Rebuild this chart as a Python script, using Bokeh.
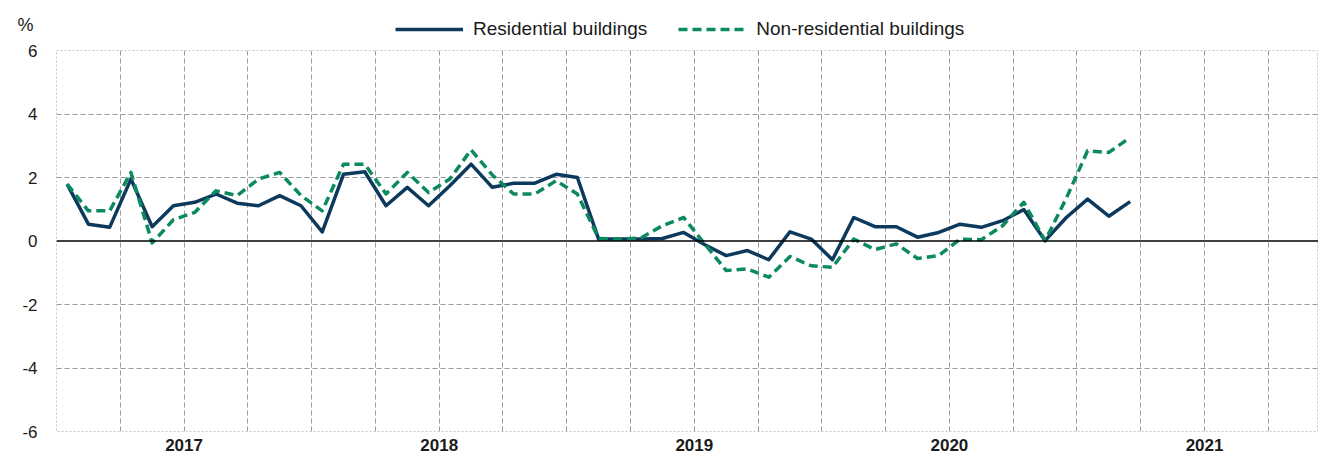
from bokeh.plotting import figure
from bokeh.layouts import column
from bokeh.models import FixedTicker, Legend, LegendItem, Span, ColumnDataSource
from bokeh.embed import file_html
from bokeh.resources import INLINE

# Monthly year-on-year change, %, starting January 2017
residential = [1.79, 0.53, 0.43, 1.95, 0.45, 1.11, 1.22, 1.48, 1.19, 1.11,
               1.43, 1.11, 0.29, 2.10, 2.18, 1.11, 1.69, 1.11, 1.74, 2.42,
               1.69, 1.82, 1.82, 2.10, 2.00, 0.06, 0.06, 0.06, 0.08, 0.27,
               -0.12, -0.46, -0.30, -0.59, 0.29, 0.06, -0.59, 0.74, 0.45, 0.45,
               0.12, 0.27, 0.53, 0.43, 0.64, 0.99, 0.01, 0.74, 1.32, 0.78, 1.24]
non_residential = [1.79, 0.95, 0.95, 2.16, -0.06, 0.67, 0.90, 1.58, 1.43, 1.95,
                   2.16, 1.43, 0.95, 2.42, 2.42, 1.48, 2.16, 1.53, 1.95, 2.87,
                   2.08, 1.48, 1.48, 1.90, 1.48, 0.08, 0.06, 0.10, 0.48, 0.74,
                   -0.10, -0.93, -0.88, -1.14, -0.49, -0.78, -0.83, 0.06, -0.27, -0.09,
                   -0.55, -0.46, 0.06, 0.04, 0.48, 1.22, 0.01, 1.35, 2.84, 2.79, 3.26]
years = ["2017", "2018", "2019", "2020", "2021"]
y_ticks = [-6, -4, -2, 0, 2, 4, 6]
series_names = ["Residential buildings", "Non-residential buildings"]
unit_label = "%"

FONT = "Liberation Sans"
DARK = "#0d3a5c"
GREEN = "#0b8a5f"
TXT = "#1a1a1a"

W = 1318
HEAD_H = 40
MAIN_H = 463 - HEAD_H
LEFT = 56
TOP = 10
FRAME_H = 381
MONTH_PX = 21.26
X_END = (W - LEFT) / MONTH_PX

x = [i + 0.5 for i in range(len(residential))]
src = ColumnDataSource(dict(x=x, res=residential, nonres=non_residential))

# ---------- header (legend and unit) ----------
h = figure(width=W, height=HEAD_H, output_backend="svg", toolbar_location=None,
           x_range=(0, X_END), y_range=(HEAD_H, 0), x_axis_location=None,
           min_border_left=LEFT, min_border_right=0, min_border_top=0, min_border_bottom=0)
h.outline_line_color = None
h.grid.visible = False
h.yaxis.ticker = FixedTicker(ticks=[24])
h.yaxis.major_label_overrides = {24: unit_label}
h.yaxis.axis_line_color = None
h.yaxis.major_tick_line_color = None
h.yaxis.minor_tick_line_color = None
h.yaxis.major_tick_out = 0
h.yaxis.major_tick_in = 0
h.yaxis.major_label_standoff = 23
h.yaxis.major_label_text_font = FONT
h.yaxis.major_label_text_font_size = "18px"
h.yaxis.major_label_text_color = TXT

nan = float("nan")
hr1 = h.line(x=[nan], y=[nan], line_color=DARK, line_width=3.5)
hr2 = h.line(x=[nan], y=[nan], line_color=GREEN, line_width=3.5, line_dash="9 5")
legend = Legend(items=[LegendItem(label=series_names[0], renderers=[hr1]),
                       LegendItem(label=series_names[1], renderers=[hr2])],
                orientation="horizontal", location=(395 - LEFT, 0))
legend.label_text_font = FONT
legend.label_text_font_size = "19px"
legend.label_text_color = TXT
legend.glyph_width = 68
legend.glyph_height = 20
legend.label_height = 20
legend.label_standoff = 10
legend.spacing = 31
legend.padding = 0
legend.margin = 0
legend.border_line_color = None
legend.background_fill_alpha = 0
h.add_layout(legend, "center")

# ---------- main chart ----------
p = figure(width=W, height=MAIN_H, output_backend="svg", toolbar_location=None,
           x_range=(0, X_END), y_range=(-6, 6),
           min_border_left=LEFT, min_border_right=0, min_border_top=TOP,
           min_border_bottom=MAIN_H - TOP - FRAME_H)
p.background_fill_color = "white"
p.border_fill_color = "white"
p.outline_line_color = "#c8c8c8"
p.outline_line_dash = "2 2"
p.outline_line_width = 1

n_months = 12 * len(years)
p.xgrid.ticker = FixedTicker(ticks=list(range(3, n_months, 3)))
p.ygrid.ticker = FixedTicker(ticks=[t for t in y_ticks if t not in (-6, 0, 6)])
for g in (p.xgrid, p.ygrid):
    g.grid_line_color = "#9a9a9a"
    g.grid_line_dash = "5 3"
    g.grid_line_width = 1

p.xaxis.ticker = FixedTicker(ticks=[12 * k + 6 for k in range(len(years))])
p.xaxis.major_label_overrides = {12 * k + 6: y for k, y in enumerate(years)}
p.yaxis.ticker = FixedTicker(ticks=y_ticks)
p.yaxis.major_label_overrides = {t: str(t) for t in y_ticks}
for ax in (p.xaxis, p.yaxis):
    ax.axis_line_color = None
    ax.major_tick_line_color = None
    ax.minor_tick_line_color = None
    ax.major_tick_out = 0
    ax.major_tick_in = 0
    ax.major_label_text_font = FONT
    ax.major_label_text_color = TXT
p.xaxis.major_label_text_font_size = "17px"
p.yaxis.major_label_text_font_size = "17px"
p.xaxis.major_label_text_font_style = "bold"
p.xaxis.major_label_standoff = 7
p.yaxis.major_label_standoff = 19

p.add_layout(Span(location=0, dimension="width", line_color="black", line_width=1.5))

p.line("x", "res", source=src, line_color=DARK, line_width=3.5, line_join="round")
p.line("x", "nonres", source=src, line_color=GREEN, line_width=3.5,
       line_dash="9 5", line_join="round")

layout = column(h, p, spacing=0)
open("out.html", "w").write(file_html(layout, INLINE))
